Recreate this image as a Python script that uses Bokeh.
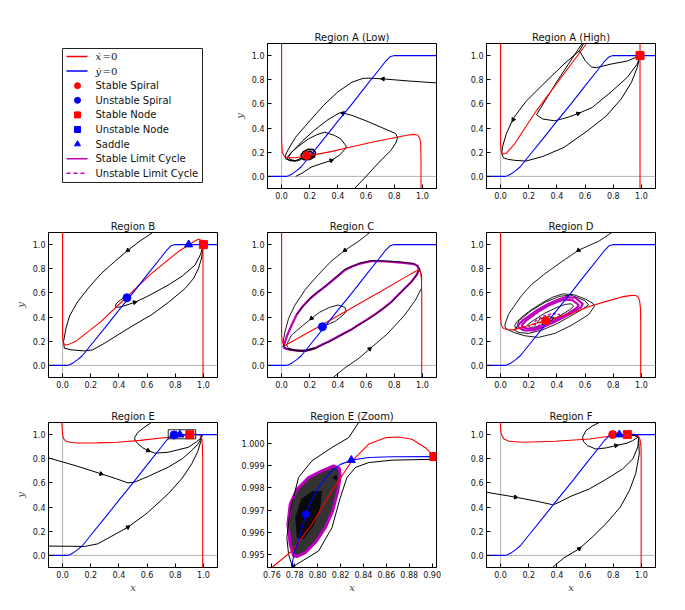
from bokeh.plotting import figure
from bokeh.models import Range1d, FixedTicker, NumeralTickFormatter, Span
from bokeh.layouts import column, row
from bokeh.embed import file_html
from bokeh.resources import INLINE
from bokeh.core.properties import value

RED = "#ff0000"
BLUE = "#0000ff"
MAG = "#bf00bf"
GRAY = "#b4b4b4"
BLACK = "#000000"

STD_TICKS = [0.0, 0.2, 0.4, 0.6, 0.8, 1.0]
EZ_XTICKS = [0.76, 0.78, 0.80, 0.82, 0.84, 0.86, 0.88, 0.90]
EZ_YTICKS = [0.995, 0.996, 0.997, 0.998, 0.999, 1.000]

# ---------------- shared y-dot nullcline (standard panels) ----------------
blue_x = [-0.1, 0.03, 0.05, 0.08, 0.11, 0.14, 0.2, 0.3, 0.4, 0.5, 0.6, 0.7, 0.74, 0.77, 0.8, 1.1]
blue_y = [0.0, 0.0, 0.006, 0.025, 0.05, 0.08, 0.167, 0.31, 0.457, 0.60, 0.75, 0.895, 0.955, 0.99, 1.0, 1.0]

# ---------------- Region A (Low) ----------------
al_red_x = [0.0, 0.0, 0.005, 0.02, 0.05, 0.1, 0.2, 0.35, 0.5, 0.65, 0.8, 0.9, 0.94, 0.965, 0.98, 0.988, 0.99, 0.99]
al_red_y = [1.1, 0.3, 0.2, 0.165, 0.155, 0.155, 0.172, 0.205, 0.245, 0.285, 0.32, 0.343, 0.348, 0.343, 0.32, 0.27, 0.15, -0.1]
al_t1_x = [1.1, 0.9, 0.72, 0.62, 0.58, 0.5, 0.4, 0.3, 0.2, 0.1, 0.05, 0.025, 0.03, 0.06, 0.1, 0.14]
al_t1_y = [0.774, 0.79, 0.807, 0.813, 0.812, 0.78, 0.70, 0.59, 0.46, 0.325, 0.23, 0.17, 0.145, 0.13, 0.125, 0.14]
al_t2_x = [0.518, 0.6, 0.66, 0.72, 0.776, 0.81, 0.824, 0.81, 0.7, 0.6, 0.5, 0.435, 0.41, 0.33, 0.235, 0.15, 0.08, 0.045, 0.04, 0.06, 0.1, 0.14]
al_t2_y = [-0.1, 0.0, 0.077, 0.15, 0.215, 0.275, 0.32, 0.355, 0.41, 0.46, 0.505, 0.525, 0.525, 0.47, 0.385, 0.295, 0.21, 0.165, 0.145, 0.133, 0.13, 0.15]
al_t3_x = [0.1, 0.15, 0.21, 0.28, 0.353, 0.41, 0.45, 0.46, 0.42, 0.376, 0.306, 0.25, 0.19, 0.12, 0.07, 0.05, 0.06, 0.1, 0.14]
al_t3_y = [0.0, 0.03, 0.077, 0.105, 0.132, 0.175, 0.225, 0.25, 0.31, 0.339, 0.366, 0.345, 0.31, 0.25, 0.2, 0.16, 0.14, 0.13, 0.15]
al_sp_x = [0.14, 0.16, 0.2, 0.235, 0.24, 0.225, 0.19, 0.155, 0.138, 0.145, 0.165, 0.195, 0.222, 0.225, 0.205, 0.175, 0.157, 0.16, 0.18]
al_sp_y = [0.15, 0.138, 0.14, 0.165, 0.2, 0.222, 0.225, 0.205, 0.175, 0.152, 0.148, 0.152, 0.17, 0.192, 0.207, 0.2, 0.183, 0.165, 0.16]
al_arrow_x = [0.72, 0.435, 0.353]
al_arrow_y = [0.807, 0.523, 0.132]
al_arrow_dir = [178, 165, 20]
al_ss = ([0.179], [0.173])

# ---------------- Region A (High) ----------------
ah_red1_x = [0.0, 0.0, 0.004, 0.015, 0.04, 0.1, 0.255, 0.45, 0.61]
ah_red1_y = [1.1, 0.26, 0.21, 0.185, 0.19, 0.27, 0.545, 0.85, 1.1]
ah_red2_x = [0.99, 0.99]
ah_red2_y = [1.1, -0.1]
ah_t1_x = [0.59, 0.56, 0.45, 0.3, 0.18, 0.09, 0.04, 0.015, 0.008, 0.02, 0.05, 0.1, 0.18, 0.3, 0.45, 0.62, 0.75, 0.856, 0.93, 0.97, 0.99]
ah_t1_y = [1.1, 1.04, 0.93, 0.76, 0.62, 0.48, 0.35, 0.25, 0.19, 0.155, 0.142, 0.133, 0.127, 0.165, 0.24, 0.38, 0.5, 0.64, 0.78, 0.9, 1.0]
ah_t2_x = [0.58, 0.55, 0.4, 0.255, 0.3, 0.385, 0.48, 0.55, 0.65, 0.785, 0.9, 0.97, 0.99]
ah_t2_y = [1.1, 1.05, 0.785, 0.51, 0.475, 0.46, 0.49, 0.52, 0.57, 0.70, 0.82, 0.93, 1.0]
ah_t3_x = [0.56, 0.6, 0.645, 0.68, 0.785, 0.9, 0.99]
ah_t3_y = [1.04, 0.96, 0.905, 0.9, 0.93, 0.955, 1.0]
ah_arrow_x = [0.09, 0.55]
ah_arrow_y = [0.47, 0.52]
ah_arrow_dir = [-115, 20]
ah_sn = ([0.99], [1.0])

# ---------------- Region B ----------------
b_red_x = [0.0, 0.0, 0.004, 0.012, 0.036, 0.1, 0.27, 0.45, 0.63, 0.82, 0.9, 0.94, 0.965, 0.985, 0.995, 0.997, 0.997]
b_red_y = [1.1, 0.25, 0.19, 0.172, 0.17, 0.205, 0.36, 0.56, 0.76, 0.94, 1.0, 1.03, 1.044, 1.035, 1.0, 0.9, -0.1]
b_t1_x = [0.64, 0.55, 0.464, 0.37, 0.274, 0.19, 0.107, 0.05, 0.024, 0.007, 0.012, 0.06, 0.155, 0.214, 0.3, 0.393, 0.5, 0.63, 0.75, 0.87, 0.93, 0.964, 0.985, 0.995, 1.0]
b_t1_y = [1.1, 1.03, 0.953, 0.86, 0.76, 0.65, 0.527, 0.41, 0.307, 0.198, 0.143, 0.129, 0.12, 0.129, 0.185, 0.253, 0.33, 0.418, 0.52, 0.637, 0.72, 0.8, 0.88, 0.95, 1.0]
b_t2_x = [0.44, 0.41, 0.38, 0.375, 0.39, 0.43, 0.512, 0.6, 0.75, 0.85, 0.94, 0.98, 1.0]
b_t2_y = [0.565, 0.54, 0.51, 0.49, 0.48, 0.49, 0.522, 0.57, 0.665, 0.74, 0.83, 0.92, 1.0]
b_arrow_x = [0.464, 0.512]
b_arrow_y = [0.953, 0.522]
b_arrow_dir = [-140, 15]
b_us = ([0.457], [0.56])
b_sd = ([0.895], [1.0])
b_sn = ([1.0], [1.0])

# ---------------- Region C ----------------
c_red_x = [0.0, 0.0, 0.006, 0.024, 0.1, 0.3, 0.5, 0.7, 0.9, 0.95, 0.97, 0.985, 0.993, 0.995, 0.995]
c_red_y = [1.1, 0.25, 0.19, 0.165, 0.215, 0.345, 0.478, 0.61, 0.745, 0.78, 0.788, 0.775, 0.72, 0.6, -0.1]
c_lc_x = [0.012, 0.04, 0.07, 0.106, 0.15, 0.2, 0.25, 0.307, 0.38, 0.45, 0.5, 0.55, 0.6, 0.64, 0.71, 0.78, 0.85, 0.9, 0.93, 0.946, 0.965, 0.974, 0.97, 0.96, 0.94, 0.92, 0.85, 0.78, 0.72, 0.66, 0.6, 0.544, 0.5, 0.45, 0.41, 0.378, 0.34, 0.3, 0.27, 0.236, 0.2, 0.165, 0.12, 0.07, 0.035, 0.012]
c_lc_y = [0.148, 0.25, 0.33, 0.418, 0.49, 0.55, 0.6, 0.65, 0.72, 0.79, 0.818, 0.84, 0.855, 0.863, 0.862, 0.857, 0.851, 0.845, 0.84, 0.835, 0.825, 0.80, 0.78, 0.75, 0.72, 0.69, 0.61, 0.527, 0.47, 0.42, 0.375, 0.335, 0.3, 0.27, 0.245, 0.225, 0.2, 0.18, 0.162, 0.143, 0.13, 0.12, 0.12, 0.129, 0.137, 0.148]
c_t1_x = [0.626, 0.55, 0.45, 0.35, 0.26, 0.17, 0.095, 0.05, 0.024, 0.012, 0.015, 0.04, 0.1, 0.165, 0.236, 0.3, 0.378, 0.45, 0.544, 0.66, 0.78, 0.85, 0.92, 0.96, 0.98]
c_t1_y = [1.1, 1.03, 0.953, 0.86, 0.75, 0.63, 0.5, 0.39, 0.28, 0.2, 0.16, 0.135, 0.122, 0.115, 0.138, 0.176, 0.22, 0.266, 0.33, 0.415, 0.522, 0.607, 0.688, 0.75, 0.8]
c_t2_x = [0.366, 0.45, 0.55, 0.626, 0.75, 0.875, 0.95, 0.993, 0.995, 0.98, 0.946, 0.9, 0.78, 0.64, 0.55, 0.45, 0.307, 0.2, 0.106]
c_t2_y = [-0.1, -0.02, 0.06, 0.137, 0.26, 0.418, 0.54, 0.637, 0.74, 0.80, 0.84, 0.85, 0.862, 0.868, 0.845, 0.795, 0.655, 0.555, 0.42]
c_t3_x = [0.29, 0.33, 0.378, 0.43, 0.46, 0.45, 0.40, 0.34, 0.27, 0.213, 0.15, 0.07, 0.035, 0.05, 0.1, 0.165, 0.236]
c_t3_y = [0.33, 0.34, 0.363, 0.41, 0.445, 0.48, 0.50, 0.48, 0.44, 0.39, 0.33, 0.25, 0.17, 0.14, 0.128, 0.125, 0.146]
c_arrow_x = [0.45, 0.626, 0.213]
c_arrow_y = [0.953, 0.137, 0.39]
c_arrow_dir = [-140, 40, -135]
c_us = ([0.29], [0.32])

# ---------------- Region D ----------------
d_red_x = [0.0, 0.0, 0.006, 0.02, 0.05, 0.09, 0.2, 0.33, 0.5, 0.625, 0.75, 0.86, 0.93, 0.96, 0.978, 0.988, 0.993, 0.995, 0.995]
d_red_y = [1.1, 0.4, 0.33, 0.305, 0.295, 0.294, 0.33, 0.376, 0.43, 0.486, 0.53, 0.567, 0.58, 0.578, 0.565, 0.53, 0.47, 0.35, -0.1]
d_t1_x = [0.79, 0.7, 0.553, 0.43, 0.316, 0.22, 0.15, 0.09, 0.055, 0.03, 0.035, 0.055, 0.1, 0.173, 0.27, 0.387, 0.5, 0.625, 0.667, 0.655, 0.6, 0.52, 0.442, 0.37, 0.29, 0.2, 0.15, 0.115, 0.1, 0.11]
d_t1_y = [1.1, 1.03, 0.953, 0.855, 0.76, 0.67, 0.58, 0.48, 0.42, 0.335, 0.31, 0.294, 0.27, 0.245, 0.232, 0.266, 0.33, 0.42, 0.49, 0.515, 0.55, 0.585, 0.592, 0.565, 0.515, 0.445, 0.4, 0.36, 0.33, 0.3]
d_t2_x = [0.11, 0.13, 0.22, 0.32, 0.42, 0.5, 0.6, 0.625, 0.58, 0.5, 0.4, 0.3, 0.2, 0.13, 0.1, 0.11]
d_t2_y = [0.3, 0.37, 0.455, 0.525, 0.572, 0.582, 0.535, 0.5, 0.465, 0.41, 0.345, 0.295, 0.265, 0.272, 0.29, 0.3]
d_lc1_x = [0.122, 0.16, 0.25, 0.34, 0.42, 0.466, 0.53, 0.584, 0.57, 0.5, 0.4, 0.3, 0.229, 0.17, 0.13, 0.122]
d_lc1_y = [0.33, 0.375, 0.45, 0.51, 0.55, 0.565, 0.56, 0.51, 0.48, 0.43, 0.37, 0.315, 0.289, 0.29, 0.31, 0.33]
d_lc2_x = [0.15, 0.18, 0.26, 0.34, 0.41, 0.455, 0.51, 0.555, 0.54, 0.48, 0.39, 0.3, 0.24, 0.185, 0.155, 0.15]
d_lc2_y = [0.335, 0.37, 0.44, 0.495, 0.53, 0.545, 0.54, 0.5, 0.475, 0.43, 0.375, 0.325, 0.305, 0.305, 0.32, 0.335]
d_in_x = [0.19, 0.23, 0.31, 0.4, 0.46, 0.5, 0.52, 0.49, 0.42, 0.34, 0.26, 0.21, 0.19]
d_in_y = [0.335, 0.37, 0.43, 0.48, 0.505, 0.51, 0.49, 0.46, 0.41, 0.36, 0.32, 0.315, 0.335]
d_ulc_x = [0.23, 0.27, 0.34, 0.41, 0.42, 0.38, 0.31, 0.25, 0.23]
d_ulc_y = [0.34, 0.33, 0.345, 0.39, 0.42, 0.43, 0.41, 0.37, 0.34]
d_sp_x = [0.26, 0.3, 0.36, 0.38, 0.34, 0.28, 0.26]
d_sp_y = [0.355, 0.35, 0.37, 0.395, 0.405, 0.385, 0.355]
d_arrow_x = [0.553]
d_arrow_y = [0.953]
d_arrow_dir = [-145]
d_ss = ([0.32], [0.37])

# ---------------- Region E ----------------
e_red_x = [-0.005, -0.003, 0.0, 0.008, 0.024, 0.06, 0.107, 0.25, 0.39, 0.55, 0.75, 0.85, 0.9, 0.94, 0.965, 0.98, 0.99, 0.993, 0.995, 0.995]
e_red_y = [1.1, 1.05, 1.0, 0.965, 0.945, 0.934, 0.93, 0.931, 0.937, 0.952, 0.978, 0.993, 0.999, 1.002, 1.0, 0.99, 0.96, 0.9, 0.8, -0.1]
e_t1_x = [-0.1, 0.1, 0.274, 0.38, 0.464, 0.51, 0.6, 0.75, 0.85, 0.917, 0.96, 0.983, 0.99]
e_t1_y = [0.807, 0.74, 0.675, 0.635, 0.6, 0.606, 0.65, 0.73, 0.8, 0.868, 0.92, 0.964, 0.995]
e_t2_x = [-0.1, 0.05, 0.155, 0.25, 0.35, 0.464, 0.6, 0.75, 0.85, 0.917, 0.96, 0.983, 0.99]
e_t2_y = [0.077, 0.076, 0.074, 0.096, 0.16, 0.234, 0.35, 0.51, 0.64, 0.758, 0.86, 0.95, 0.995]
e_t3_x = [0.63, 0.58, 0.536, 0.512, 0.515, 0.536, 0.57, 0.607, 0.655, 0.75, 0.893, 0.95, 0.976, 0.99]
e_t3_y = [1.1, 1.06, 1.02, 0.978, 0.95, 0.923, 0.89, 0.868, 0.846, 0.854, 0.895, 0.94, 0.964, 0.995]
e_arrow_x = [0.274, 0.464, 0.607]
e_arrow_y = [0.675, 0.234, 0.868]
e_arrow_dir = [-20, 35, -25]
e_box = (0.75, 0.945, 0.965, 1.04)
e_us = ([0.792], [0.997])
e_sd = ([0.833], [0.999])
e_sn = ([0.903], [0.999])

# ---------------- Region E (Zoom) ----------------
ez_xr = (0.7562, 0.9038)
ez_yr = (0.99442, 1.00093)
ez_red_x = [0.76, 0.7775, 0.795, 0.8125, 0.83, 0.8446, 0.8592, 0.8708, 0.8825, 0.894, 0.9015, 0.9044]
ez_red_y = [0.99442, 0.99516, 0.99636, 0.99786, 0.99921, 0.99996, 1.00025, 1.00028, 1.00018, 0.99980, 0.99943, 0.99920]
ez_blue_x = [0.7775, 0.7790, 0.7830, 0.7870, 0.7897, 0.7950, 0.8008, 0.8070, 0.8125, 0.8200, 0.8294, 0.8446, 0.8650, 0.9000, 0.9040]
ez_blue_y = [0.99442, 0.99500, 0.99560, 0.99630, 0.99681, 0.99745, 0.99800, 0.99845, 0.99876, 0.99905, 0.99924, 0.99936, 0.99939, 0.99940, 0.99940]
ez_t1_x = [0.8358, 0.8271, 0.8125, 0.7950, 0.7833, 0.7760, 0.7731, 0.7746, 0.7775, 0.7790]
ez_t1_y = [1.00093, 1.00025, 0.99981, 0.99921, 0.99846, 0.99696, 0.99576, 0.99501, 0.99454, 0.99446]
ez_t2_x = [0.7790, 0.7819, 0.8008, 0.8125, 0.8198, 0.8256, 0.8329, 0.8446, 0.8650, 0.9038]
ez_t2_y = [0.99446, 0.99457, 0.99516, 0.99621, 0.99756, 0.99846, 0.99891, 0.99913, 0.99924, 0.99928]
ez_lc_x = [0.7790, 0.7760, 0.7740, 0.7760, 0.7819, 0.7921, 0.8037, 0.8140, 0.8189, 0.8198, 0.8177, 0.8131, 0.8067, 0.7979, 0.7892, 0.7819, 0.7790]
ez_lc_y = [0.99494, 0.99546, 0.99635, 0.99726, 0.99793, 0.99846, 0.99876, 0.99898, 0.99888, 0.99853, 0.99786, 0.99696, 0.99621, 0.99554, 0.99509, 0.99491, 0.99494]
ez_core_x = [0.7819, 0.7804, 0.7857, 0.7956, 0.8037, 0.8023, 0.7965, 0.7877, 0.7819]
ez_core_y = [0.99576, 0.99666, 0.99749, 0.99786, 0.99786, 0.99711, 0.99629, 0.99569, 0.99576]
ez_arrow_x = [0.7785, 0.8154]
ez_arrow_y = [0.99448, 0.99846]
ez_arrow_dir = [10, 70]
ez_us = ([0.7897], [0.99681])
ez_sd = ([0.8294], [0.99924])
ez_sn = ([0.9015], [0.9994])

# ---------------- Region F ----------------
f_red_x = [0.0, 0.0, 0.006, 0.024, 0.06, 0.154, 0.39, 0.63, 0.796, 0.86, 0.915, 0.95, 0.975, 0.99, 0.997, 0.998, 0.998]
f_red_y = [1.1, 1.05, 1.0, 0.964, 0.945, 0.937, 0.945, 0.964, 0.99, 1.0, 1.005, 1.003, 0.99, 0.96, 0.9, 0.8, -0.1]
f_t1_x = [-0.1, 0.107, 0.25, 0.368, 0.392, 0.5, 0.63, 0.75, 0.867, 0.94, 0.975, 0.98, 0.95, 0.9]
f_t1_y = [0.523, 0.482, 0.45, 0.42, 0.427, 0.49, 0.55, 0.63, 0.716, 0.8, 0.9, 0.975, 0.995, 1.0]
f_t2_x = [0.368, 0.45, 0.558, 0.65, 0.748, 0.85, 0.915, 0.96, 0.985, 0.98, 0.95, 0.9]
f_t2_y = [-0.1, -0.02, 0.055, 0.15, 0.262, 0.4, 0.537, 0.68, 0.84, 0.975, 0.995, 1.0]
f_t3_x = [0.7, 0.65, 0.606, 0.582, 0.59, 0.617, 0.677, 0.75, 0.82, 0.9, 0.938, 0.97, 0.98, 0.95, 0.9]
f_t3_y = [1.1, 1.07, 1.033, 0.978, 0.94, 0.909, 0.88, 0.89, 0.909, 0.93, 0.95, 0.975, 0.985, 0.997, 1.0]
f_arrow_x = [0.107, 0.558, 0.82]
f_arrow_y = [0.482, 0.055, 0.909]
f_arrow_dir = [-10, 40, 10]
f_ss = ([0.796], [1.0])
f_sd = ([0.843], [1.0])
f_sn = ([0.9], [1.0])

# ---------------- legend ----------------
legend_labels = ["=0", "=0", "Stable Spiral", "Unstable Spiral", "Stable Node",
                 "Unstable Node", "Saddle", "Stable Limit Cycle", "Unstable Limit Cycle"]
legend_math = ["\u1e8b", "\u1e8f"]


def style_axes(p):
    p.grid.visible = False
    p.background_fill_color = "white"
    p.border_fill_color = "white"


def make_panel(title, top, bottom, left=40, xr=(-0.1, 1.1), yr=(-0.1, 1.1), xticks=STD_TICKS,
               yticks=STD_TICKS, xfmt="0.0", yfmt="0.0", xlabel=None, ylabel=None, refs=True):
    p = figure(frame_width=169, frame_height=145, x_range=Range1d(*xr), y_range=Range1d(*yr),
               output_backend="svg", toolbar_location=None, min_border_left=left,
               min_border_right=10, min_border_top=top, min_border_bottom=bottom, title=title)
    p.title.text_font = "DejaVu Sans"
    p.title.text_font_size = "10px"
    p.title.text_font_style = "normal"
    p.title.align = "center"
    p.title.standoff = 2
    p.title.text_color = "#111111"
    style_axes(p)
    p.outline_line_color = "black"
    p.outline_line_alpha = 1.0
    for ax, ticks, fmt in ((p.xaxis, xticks, xfmt), (p.yaxis, yticks, yfmt)):
        ax.ticker = FixedTicker(ticks=ticks)
        ax.formatter = NumeralTickFormatter(format=fmt)
        ax.major_label_text_font = "DejaVu Sans"
        ax.major_label_text_font_size = "8px"
        ax.major_label_text_color = "#111111"
        ax.major_tick_in = 4
        ax.major_tick_out = 0
        ax.minor_tick_in = 0
        ax.minor_tick_out = 0
        ax.major_label_standoff = 3
        ax.axis_line_color = "black"
    if xlabel:
        p.xaxis.axis_label = xlabel
        p.xaxis.axis_label_text_font = "DejaVu Serif"
        p.xaxis.axis_label_text_font_style = "italic"
        p.xaxis.axis_label_text_font_size = "10px"
        p.xaxis.axis_label_standoff = 1
    if ylabel:
        p.yaxis.axis_label = ylabel
        p.yaxis.axis_label_text_font = "DejaVu Serif"
        p.yaxis.axis_label_text_font_style = "italic"
        p.yaxis.axis_label_text_font_size = "10px"
        p.yaxis.axis_label_standoff = 4
    if refs:
        p.add_layout(Span(location=0, dimension="height", line_color=GRAY, line_width=1, level="underlay"))
        p.add_layout(Span(location=0, dimension="width", line_color=GRAY, line_width=1, level="underlay"))
    return p


def black(p, xs, ys, w=1.0):
    p.line(xs, ys, line_color=BLACK, line_width=w)


def arrows(p, xs, ys, dirs):
    p.scatter(xs, ys, marker="triangle", size=4, angle=[d - 90 for d in dirs], angle_units="deg",
              fill_color=BLACK, line_color=BLACK)


def nullclines(p, rx, ry, bx=blue_x, by=blue_y):
    p.line(rx, ry, line_color=RED, line_width=1.1)
    p.line(bx, by, line_color=BLUE, line_width=1.1)


def mark(p, pt, marker, color, size=8):
    p.scatter(pt[0], pt[1], marker=marker, size=size, fill_color=color, line_color=color)


# ---------------- legend cell (same frame geometry as the other panels; units = page px) ----------------
leg = figure(frame_width=169, frame_height=145, x_range=Range1d(48, 217), y_range=Range1d(188, 43),
             output_backend="svg", toolbar_location=None, min_border_left=48, min_border_right=10,
             min_border_top=43, min_border_bottom=22, title=None)
leg.axis.visible = False
style_axes(leg)
leg.outline_line_color = None
leg.quad(left=[62], right=[202], top=[48], bottom=[182], fill_color="white", line_color="#222222", line_width=1)
ys = [56 + 14.6 * i for i in range(9)]
leg.line([66, 87], [ys[0], ys[0]], line_color=RED, line_width=1.5)
leg.line([66, 87], [ys[1], ys[1]], line_color=BLUE, line_width=1.5)
leg.scatter([77], [ys[2]], marker="circle", size=6, fill_color=RED, line_color=RED)
leg.scatter([77], [ys[3]], marker="circle", size=6, fill_color=BLUE, line_color=BLUE)
leg.scatter([77], [ys[4]], marker="square", size=6, fill_color=RED, line_color=RED)
leg.scatter([77], [ys[5]], marker="square", size=6, fill_color=BLUE, line_color=BLUE)
leg.scatter([77], [ys[6]], marker="triangle", size=6, fill_color=BLUE, line_color=BLUE)
leg.line([66, 87], [ys[7], ys[7]], line_color=MAG, line_width=1.5)
leg.line([66, 87], [ys[8], ys[8]], line_color=MAG, line_width=1.5, line_dash="4 3")
leg.text(x=[95, 95], y=ys[:2], text=legend_math, text_font=value("DejaVu Serif"),
         text_font_style="italic", text_font_size="10px", text_baseline="middle", text_color="#111111")
leg.text(x=[102, 102], y=ys[:2], text=legend_labels[:2], text_font=value("DejaVu Serif"),
         text_font_size="10px", text_baseline="middle", text_color="#111111")
leg.text(x=[95] * 7, y=ys[2:], text=legend_labels[2:], text_font=value("DejaVu Sans"),
         text_font_size="10px", text_baseline="middle", text_color="#111111")

# ---------------- Region A (Low) ----------------
pal = make_panel("Region A (Low)", 43, 22, ylabel="y")
for tx, ty in ((al_t1_x, al_t1_y), (al_t2_x, al_t2_y), (al_t3_x, al_t3_y)):
    black(pal, tx, ty)
black(pal, al_sp_x, al_sp_y, 1.6)
arrows(pal, al_arrow_x, al_arrow_y, al_arrow_dir)
nullclines(pal, al_red_x, al_red_y)
mark(pal, al_ss, "circle", RED)

# ---------------- Region A (High) ----------------
pah = make_panel("Region A (High)", 43, 22)
for tx, ty in ((ah_t1_x, ah_t1_y), (ah_t2_x, ah_t2_y), (ah_t3_x, ah_t3_y)):
    black(pah, tx, ty)
arrows(pah, ah_arrow_x, ah_arrow_y, ah_arrow_dir)
nullclines(pah, ah_red1_x, ah_red1_y)
pah.line(ah_red2_x, ah_red2_y, line_color=RED, line_width=1.1)
mark(pah, ah_sn, "square", RED)

# ---------------- Region B ----------------
pb = make_panel("Region B", 22, 22, left=48, ylabel="y")
black(pb, b_t1_x, b_t1_y)
black(pb, b_t2_x, b_t2_y)
arrows(pb, b_arrow_x, b_arrow_y, b_arrow_dir)
nullclines(pb, b_red_x, b_red_y)
mark(pb, b_us, "circle", BLUE)
mark(pb, b_sd, "triangle", BLUE)
mark(pb, b_sn, "square", RED)

# ---------------- Region C ----------------
pc = make_panel("Region C", 22, 22)
pc.line(c_lc_x, c_lc_y, line_color=MAG, line_width=2.2)
for tx, ty in ((c_t1_x, c_t1_y), (c_t2_x, c_t2_y), (c_t3_x, c_t3_y)):
    black(pc, tx, ty, 0.9)
arrows(pc, c_arrow_x, c_arrow_y, c_arrow_dir)
nullclines(pc, c_red_x, c_red_y)
mark(pc, c_us, "circle", BLUE)

# ---------------- Region D ----------------
pd_ = make_panel("Region D", 22, 22)
for tx, ty in ((d_t1_x, d_t1_y), (d_t2_x, d_t2_y), (d_in_x, d_in_y), (d_sp_x, d_sp_y)):
    black(pd_, tx, ty, 0.9)
pd_.line(d_lc1_x, d_lc1_y, line_color=MAG, line_width=2.2)
pd_.line(d_lc2_x, d_lc2_y, line_color=MAG, line_width=2.2)
pd_.line(d_ulc_x, d_ulc_y, line_color=MAG, line_width=1.5, line_dash="3 2")
arrows(pd_, d_arrow_x, d_arrow_y, d_arrow_dir)
nullclines(pd_, d_red_x, d_red_y)
mark(pd_, d_ss, "circle", RED)

# ---------------- Region E ----------------
pe = make_panel("Region E", 23, 33, left=48, xlabel="x", ylabel="y")
for tx, ty in ((e_t1_x, e_t1_y), (e_t2_x, e_t2_y), (e_t3_x, e_t3_y)):
    black(pe, tx, ty)
arrows(pe, e_arrow_x, e_arrow_y, e_arrow_dir)
nullclines(pe, e_red_x, e_red_y)
pe.quad(left=[e_box[0]], right=[e_box[1]], bottom=[e_box[2]], top=[e_box[3]],
        fill_color=None, line_color="#222222", line_width=1)
mark(pe, e_us, "circle", BLUE)
mark(pe, e_sd, "triangle", BLUE)
mark(pe, e_sn, "square", RED)

# ---------------- Region E (Zoom) ----------------
pez = make_panel("Region E (Zoom)", 23, 33, xr=ez_xr, yr=ez_yr, xticks=EZ_XTICKS,
                 yticks=EZ_YTICKS, xfmt="0.00", yfmt="0.000", xlabel="x", refs=False)
pez.patch(ez_lc_x, ez_lc_y, fill_color="#333333", line_color=None)
pez.patch(ez_core_x, ez_core_y, fill_color="#0a0a0a", line_color=None)
pez.line(ez_lc_x, ez_lc_y, line_color=MAG, line_width=3)
black(pez, ez_t1_x, ez_t1_y)
black(pez, ez_t2_x, ez_t2_y)
arrows(pez, ez_arrow_x, ez_arrow_y, ez_arrow_dir)
nullclines(pez, ez_red_x, ez_red_y, ez_blue_x, ez_blue_y)
mark(pez, ez_us, "circle", BLUE, 7)
mark(pez, ez_sd, "triangle", BLUE)
mark(pez, ez_sn, "square", RED)

# ---------------- Region F ----------------
pf = make_panel("Region F", 23, 33, xlabel="x")
for tx, ty in ((f_t1_x, f_t1_y), (f_t2_x, f_t2_y), (f_t3_x, f_t3_y)):
    black(pf, tx, ty)
arrows(pf, f_arrow_x, f_arrow_y, f_arrow_dir)
nullclines(pf, f_red_x, f_red_y)
mark(pf, f_ss, "circle", RED)
mark(pf, f_sd, "triangle", BLUE)
mark(pf, f_sn, "square", RED)

layout = column(row(leg, pal, pah), row(pb, pc, pd_), row(pe, pez, pf))

open("out.html", "w").write(file_html(layout, INLINE))
